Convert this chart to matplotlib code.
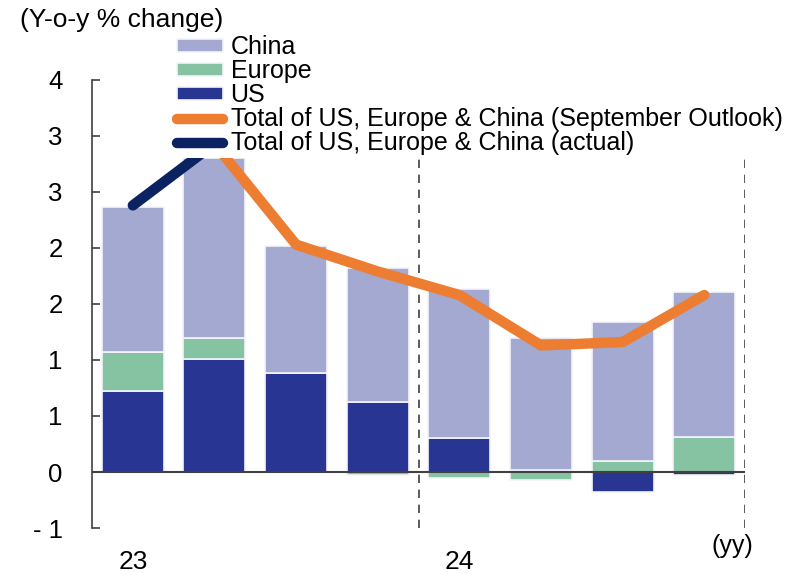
import numpy as np
import matplotlib.pyplot as plt
from matplotlib.ticker import FixedLocator, FixedFormatter

plt.rcParams['font.family'] = ['Liberation Sans', 'DejaVu Sans']

quarters = ['23Q1', '23Q2', '23Q3', '23Q4', '24Q1', '24Q2', '24Q3', '24Q4']
us = [0.72, 1.01, 0.88, 0.625, 0.30, 0.02, -0.18, -0.03]
europe = [0.35, 0.19, 0.0, -0.03, -0.05, -0.07, 0.10, 0.31]
china = [1.30, 1.60, 1.14, 1.20, 1.33, 1.18, 1.24, 1.30]
total_actual = [2.38, 2.93]
total_outlook = [2.93, 2.03, 1.79, 1.58, 1.13, 1.16, 1.58]
year_labels = ['23', '', '', '', '24', '', '', '']

c_china = '#A3A9D1'
c_europe = '#86C3A3'
c_us = '#283593'
c_orange = '#ED7D31'
c_navy = '#0B2360'

fig = plt.figure(figsize=(7.96, 5.75), dpi=100)
ax = fig.add_axes([0.1156, 0.0817, 0.8204, 0.7793])

x = np.arange(len(quarters))
pos = np.zeros(len(x))
neg = np.zeros(len(x))
handles = {}
for name, vals, col in [('US', us, c_us), ('Europe', europe, c_europe), ('China', china, c_china)]:
    vals = np.array(vals)
    bottoms = np.where(vals >= 0, pos, neg)
    handles[name] = ax.bar(x, vals, width=0.76, bottom=bottoms, color=col,
                           edgecolor='#F4F4FA', linewidth=1.2, label=name, zorder=2)
    pos = pos + np.where(vals >= 0, vals, 0)
    neg = neg + np.where(vals < 0, vals, 0)

l_out, = ax.plot(x[1:], total_outlook, color=c_orange, lw=7.5, solid_capstyle='round',
                 solid_joinstyle='round', zorder=3,
                 label='Total of US, Europe & China (September Outlook)')
l_act, = ax.plot(x[:2], total_actual, color=c_navy, lw=7.5, solid_capstyle='round',
                 solid_joinstyle='round', zorder=3,
                 label='Total of US, Europe & China (actual)')

ax.axhline(0, color='#404040', lw=1.5, zorder=4)
for xv in [3.5, 7.5]:
    ax.axvline(xv, color='#404040', lw=1.2, ls=(0, (5, 4)), zorder=1)

ax.set_xlim(-0.5, 7.5)
ax.set_ylim(-0.5, 3.5)
ticks = [-0.5, 0, 0.5, 1, 1.5, 2, 2.5, 3, 3.5]
tick_labels = ['- 1', '0', '1', '1', '2', '2', '3', '3', '4']
ax.yaxis.set_major_locator(FixedLocator(ticks))
ax.yaxis.set_major_formatter(FixedFormatter(tick_labels))
ax.tick_params(axis='y', direction='in', length=6, width=1.2, color='#404040',
               labelsize=18.5, pad=21)
ax.set_xticks(x)
ax.set_xticklabels(year_labels, fontsize=19)
ax.tick_params(axis='x', length=0, pad=16)

for s in ['top', 'right', 'bottom']:
    ax.spines[s].set_visible(False)
ax.spines['left'].set_color('#404040')
ax.spines['left'].set_linewidth(1.2)

fig.text(0.025, 0.965, '(Y-o-y % change)', fontsize=19, va='center', ha='left')
ax.text(7.35, -0.66, '(yy)', fontsize=18, ha='center', va='center')

leg = ax.legend([handles['China'], handles['Europe'], handles['US'], l_out, l_act],
                ['China', 'Europe', 'US',
                 'Total of US, Europe & China (September Outlook)',
                 'Total of US, Europe & China (actual)'],
                loc='upper left', bbox_to_anchor=(0.219, 0.943), bbox_transform=fig.transFigure,
                fontsize=18, frameon=True, framealpha=1, edgecolor='none',
                fancybox=False, borderpad=0.1, labelspacing=0.0, handlelength=1.85,
                handleheight=0.4, handletextpad=0.3, borderaxespad=0)
leg.set_zorder(5)

fig.savefig('out.png', dpi=100)
